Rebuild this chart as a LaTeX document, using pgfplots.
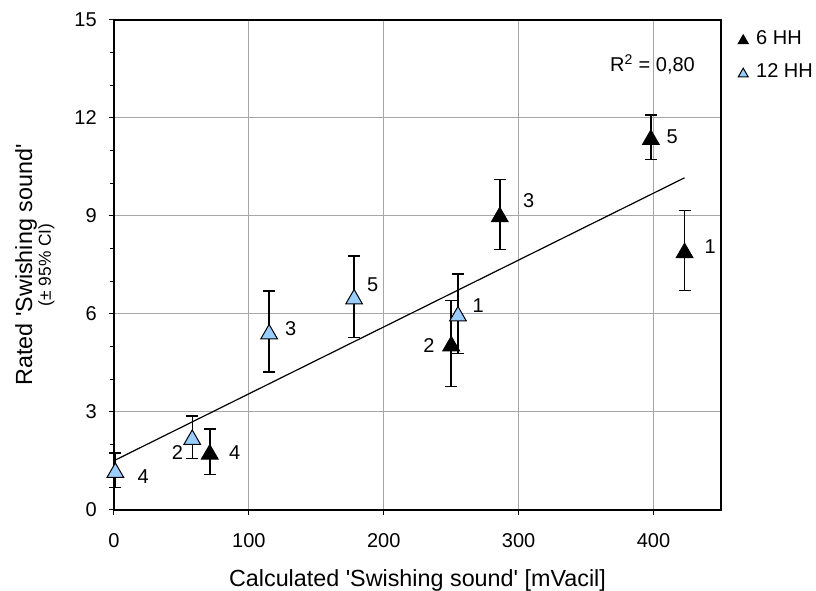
\documentclass[border=0pt]{standalone}
\usepackage{pgfplots}
\usepackage{pgfplotstable}
\pgfplotsset{compat=1.18}
\usepackage{fontspec}
\setmainfont{Liberation Sans}
\definecolor{lblue}{RGB}{153,204,255}
\definecolor{gridc}{RGB}{166,166,166}
\newcommand{\q}{\textquotesingle}
\newcommand{\fs}[1]{\fontsize{#1}{#1}\selectfont}

\pgfplotstableread{
x y e
423 7.945 1.225
250 5.095 1.315
286 9.045 1.075
71 1.78 0.70
398 11.41 0.68
}\blackdata

\pgfplotstableread{
x y e
255 6.01 1.22
58 2.23 0.65
115 5.46 1.24
1 1.22 0.53
178 6.53 1.25
}\bluedata

\begin{document}
\begin{tikzpicture}
\useasboundingbox (-85.5pt,-60.75pt) rectangle (526.5pt,382.5pt);
\begin{axis}[
  scale only axis, width=455.25pt, height=367.5pt,
  at={(0,0)}, anchor=south west,
  clip=false,
  xmin=0, xmax=450, ymin=0, ymax=15,
  xtick={0,100,200,300,400}, ytick={0,3,6,9,12,15},
  minor y tick num=2,
  xtick pos=left, ytick pos=left,
  tick align=outside,
  major tick length=3.75pt, minor tick length=3pt,
  every tick/.style={black, line width=0.75pt},
  grid=major, major grid style={gridc, line width=0.75pt},
  axis line style={black, line width=1.2pt},
  /pgf/number format/assume math mode=true,
  ticklabel style={font=\fs{15}, inner sep=0pt},
  xticklabel style={anchor=base, yshift=-24.75pt},
  yticklabel style={anchor=east, xshift=-9pt},
  xlabel={Calculated \q Swishing sound\q{} [mVacil]},
  xlabel style={at={(axis description cs:0.5,0)}, anchor=base, yshift=-57.5pt, font=\fs{17.5}, inner sep=0pt},
  legend style={at={(rel axis cs:1.028,0.985)}, anchor=north west, draw=none, fill=none,
     font=\fs{15}, row sep=9pt, inner sep=0pt,
     nodes={inner sep=2pt},
     /tikz/every odd column/.style={column sep=4pt}},
  legend cell align=left,
  legend image code/.code={\draw[#1, mark size=4.3pt] plot coordinates {(0pt,0pt)};},
]
% error bars (drawn beneath the markers)
\addplot[only marks, mark=none, forget plot,
  error bars/.cd, y dir=both, y explicit,
  error bar style={black, line width=1.1pt},
  error mark options={rotate=90, mark size=4.5pt, black, line width=1.1pt}]
  table[x=x, y=y, y error=e] {\blackdata};
\addplot[only marks, mark=none, forget plot,
  error bars/.cd, y dir=both, y explicit,
  error bar style={black, line width=1.1pt},
  error mark options={rotate=90, mark size=4.5pt, black, line width=1.1pt}]
  table[x=x, y=y, y error=e] {\bluedata};
% regression line
\addplot[black, line width=0.9pt, forget plot] coordinates {(1,1.53) (423,10.17)};
% markers
\addplot[only marks, mark=triangle*, mark size=7.2pt,
  mark options={draw=black, fill=black, line width=0.75pt, yshift=-1.8pt}]
  table[x=x, y=y] {\blackdata};
\addlegendentry{6 HH}
\addplot[only marks, mark=triangle*, mark size=7.2pt,
  mark options={draw=black, fill=lblue, line width=0.75pt, yshift=-1.8pt}]
  table[x=x, y=y] {\bluedata};
\addlegendentry{12 HH}
% point labels
\begin{scope}[every node/.style={font=\fs{15}, inner sep=0pt, anchor=center}]
\node at (axis cs:307.4,9.47) {3};
\node at (axis cs:413.8,11.42) {5};
\node at (axis cs:442,8.06) {1};
\node at (axis cs:270,6.27) {1};
\node at (axis cs:131,5.54) {3};
\node at (axis cs:191.8,6.89) {5};
\node at (axis cs:233.5,5.05) {2};
\node at (axis cs:21.7,1.02) {4};
\node at (axis cs:47,1.75) {2};
\node at (axis cs:89.4,1.75) {4};
\end{scope}
% R^2
\node[anchor=base west, font=\fs{15}, inner sep=0pt] at (rel axis cs:0.8171,0.8945) {R\textsuperscript{2} = 0,80};
% y label (two lines)
\node[rotate=90, anchor=base, font=\fs{17.5}, inner sep=0pt] at (rel axis cs:-0.135,0.5) {Rated \q Swishing sound\q};
\node[rotate=90, anchor=base, font=\fs{13}, inner sep=0pt] at (rel axis cs:-0.1038,0.5) {(± 95\% CI)};
\end{axis}
\end{tikzpicture}
\end{document}
